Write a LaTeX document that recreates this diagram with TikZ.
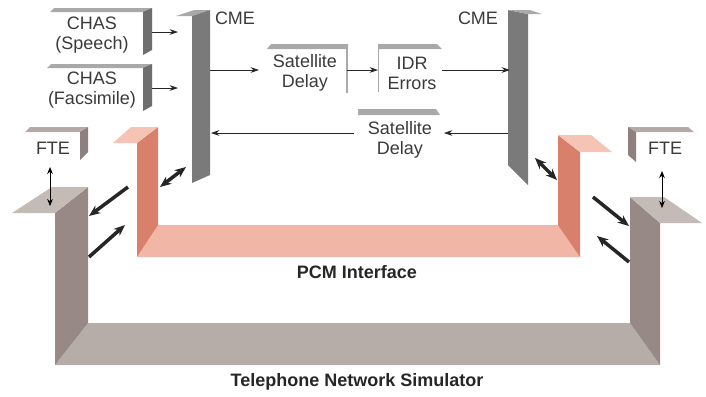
\documentclass[tikz,border=0pt]{standalone}
\usepackage{fontspec}
\setmainfont{Liberation Sans}
\usetikzlibrary{arrows.meta}

\definecolor{pcmfront}{HTML}{D8806C}
\definecolor{pcmbar}{HTML}{F2B6A6}
\definecolor{pcmtop}{HTML}{F5C4B4}
\definecolor{tnsfront}{HTML}{978A86}
\definecolor{tnsbar}{HTML}{B6ACA8}
\definecolor{tnstop}{HTML}{C4BAB6}
\definecolor{cmegray}{HTML}{7A7A7A}
\definecolor{capgray}{HTML}{A9A9A9}
\definecolor{chasedge}{HTML}{6E6E6E}
\definecolor{fteedge}{HTML}{8E807E}
\definecolor{ftetop}{HTML}{B4AAA8}
\definecolor{ink}{HTML}{3A3A3A}

\begin{document}
\begin{tikzpicture}[
    x=0.025cm, y=-0.025cm,
    lbl/.style={
        align=center, inner sep=0pt, text=ink,
        font=\fontsize{12.8}{14.2}\selectfont
    },
    heading/.style={lbl, text=black!85, font=\fontsize{12.8}{14.2}\selectfont\bfseries},
    signal/.style={-{Stealth[length=6pt,width=4pt]}, line width=0.5pt, draw=black!85},
    fat/.style={-{Stealth[length=8pt,width=6.5pt]}, line width=2.5pt, draw=black!85},
    fatboth/.style={{Stealth[length=8pt,width=6.5pt]}-{Stealth[length=8pt,width=6.5pt]}, line width=2.5pt, draw=black!85},
    updown/.style={{Stealth[length=5pt,width=4pt]}-{Stealth[length=5pt,width=4pt]}, line width=0.5pt}
]
\useasboundingbox (0,0) rectangle (706,396);

% --- Telephone Network Simulator (outer channel) ---
\fill[tnsbar] (55,365) -- (88,323) -- (630,323) -- (660,365) -- cycle;
\fill[tnsfront] (55,213) -- (88,187) -- (88,323) -- (55,365) -- cycle;
\fill[tnstop] (12,213) -- (52,187) -- (88,187) -- (55,213) -- cycle;
\fill[tnsfront] (630,197) -- (660,223) -- (660,365) -- (630,323) -- cycle;
\fill[tnstop] (630,197) -- (664,197) -- (702,223) -- (660,223) -- cycle;

% --- PCM interface (inner channel) ---
\fill[pcmbar] (137,257) -- (158,225) -- (560,225) -- (580,257) -- cycle;
\fill[pcmfront] (137,143) -- (158,127) -- (158,225) -- (137,257) -- cycle;
\fill[pcmtop] (113,143) -- (131,127) -- (158,127) -- (137,143) -- cycle;
\fill[pcmfront] (558,135) -- (580,152) -- (580,257) -- (558,225) -- cycle;
\fill[pcmtop] (558,135) -- (591,135) -- (612,152) -- (580,152) -- cycle;

% --- CME bars ---
\fill[capgray] (176,16) -- (194,10) -- (210,10) -- (192,16) -- cycle;
\fill[cmegray] (192,16) -- (210,10) -- (210,175) -- (192,183) -- cycle;
\fill[cmegray] (508,10) -- (528,14) -- (528,185) -- (508,165) -- cycle;
\fill[capgray] (508,10) -- (530,10) -- (542,14) -- (528,14) -- cycle;

% --- CHAS boxes ---
\fill[capgray] (50,12) -- (54,8) -- (152,8) -- (144,12) -- cycle;
\fill[chasedge] (143,12) -- (152,8) -- (152,50) -- (143,55) -- cycle;
\fill[capgray] (47,68) -- (51,64) -- (152,64) -- (144,68) -- cycle;
\fill[chasedge] (143,68) -- (152,64) -- (152,106) -- (143,111) -- cycle;

% --- delay / error boxes ---
\fill[capgray] (267,49) -- (271,44) -- (348,44) -- (348,49) -- cycle;
\draw[capgray, line width=0.8pt] (347,44) -- (347,93);
\fill[capgray] (378,44) -- (437,44) -- (442,49) -- (378,49) -- cycle;
\draw[capgray, line width=0.8pt] (378.5,44) -- (378.5,92);
\fill[capgray] (358,109) -- (436,109) -- (440,115) -- (358,115) -- cycle;

% --- FTE boxes ---
\fill[ftetop] (25,132) -- (30,127) -- (88,127) -- (80,132) -- cycle;
\fill[fteedge] (80,132) -- (88,127) -- (88,152) -- (80,160) -- cycle;
\fill[ftetop] (628,127) -- (688,127) -- (694,132) -- (636,132) -- cycle;
\fill[fteedge] (628,127) -- (636,132) -- (636,162) -- (628,155) -- cycle;

% --- Texts ---
\node[lbl] (chasS) at (92,35) {CHAS\\(Speech)};
\node[lbl] (chasF) at (92,90) {CHAS\\(Facsimile)};
\node[lbl] (cmeL) at (235,18) {CME};
\node[lbl] (cmeR) at (478,18) {CME};
\node[lbl] (satA) at (305,73) {Satellite\\Delay};
\node[lbl] (idr) at (412,73) {IDR\\Errors};
\node[lbl] (satB) at (400,140) {Satellite\\Delay};
\node[lbl] (fteL) at (53,148) {FTE};
\node[lbl] (fteR) at (665,148) {FTE};
\node[heading] (pcm) at (357,272) {PCM Interface};
\node[heading] (tns) at (357,382) {Telephone Network Simulator};

% --- Connection points ---
\coordinate (chasS-out) at (152,32);
\coordinate (chasF-out) at (152,88);
\coordinate (cmeL-in1) at (178,32);
\coordinate (cmeL-in2) at (178,88);
\coordinate (cmeL-tx) at (210,70);
\coordinate (satA-in) at (259,70);
\coordinate (satA-out) at (347,70);
\coordinate (idr-in) at (378,70);
\coordinate (idr-out) at (442,70);
\coordinate (cmeR-in) at (510,70);
\coordinate (cmeR-tx) at (508,133);
\coordinate (satB-in) at (444,133);
\coordinate (satB-out) at (354,133);
\coordinate (cmeL-rx) at (211,133);

\coordinate (pcmL-a) at (128,187);
\coordinate (tnsL-a) at (89,216);
\coordinate (tnsL-b) at (89,257);
\coordinate (pcmL-b) at (125,225);
\coordinate (pcmL-c) at (160,187);
\coordinate (cmeL-c) at (186,167);
\coordinate (cmeR-c) at (535,158);
\coordinate (pcmR-c) at (557,180);
\coordinate (pcmR-a) at (593,197);
\coordinate (tnsR-a) at (629,226);
\coordinate (tnsR-b) at (629,262);
\coordinate (pcmR-b) at (597,236);

\coordinate (fteL-dn) at (50,167);
\coordinate (tnsL-up) at (50,206);
\coordinate (fteR-dn) at (662,171);
\coordinate (tnsR-up) at (662,208);

% --- Signal arrows ---
\draw[signal] (chasS-out) -- (cmeL-in1);
\draw[signal] (chasF-out) -- (cmeL-in2);
\draw[signal] (cmeL-tx) -- (satA-in);
\draw[signal] (satA-out) -- (idr-in);
\draw[signal] (idr-out) -- (cmeR-in);
\draw[signal] (cmeR-tx) -- (satB-in);
\draw[signal] (satB-out) -- (cmeL-rx);

% --- Interface arrows ---
\draw[fat] (pcmL-a) -- (tnsL-a);
\draw[fat] (tnsL-b) -- (pcmL-b);
\draw[fatboth] (pcmL-c) -- (cmeL-c);
\draw[fatboth] (cmeR-c) -- (pcmR-c);
\draw[fat] (pcmR-a) -- (tnsR-a);
\draw[fat] (tnsR-b) -- (pcmR-b);
\draw[updown] (fteL-dn) -- (tnsL-up);
\draw[updown] (fteR-dn) -- (tnsR-up);

\end{tikzpicture}
\end{document}
